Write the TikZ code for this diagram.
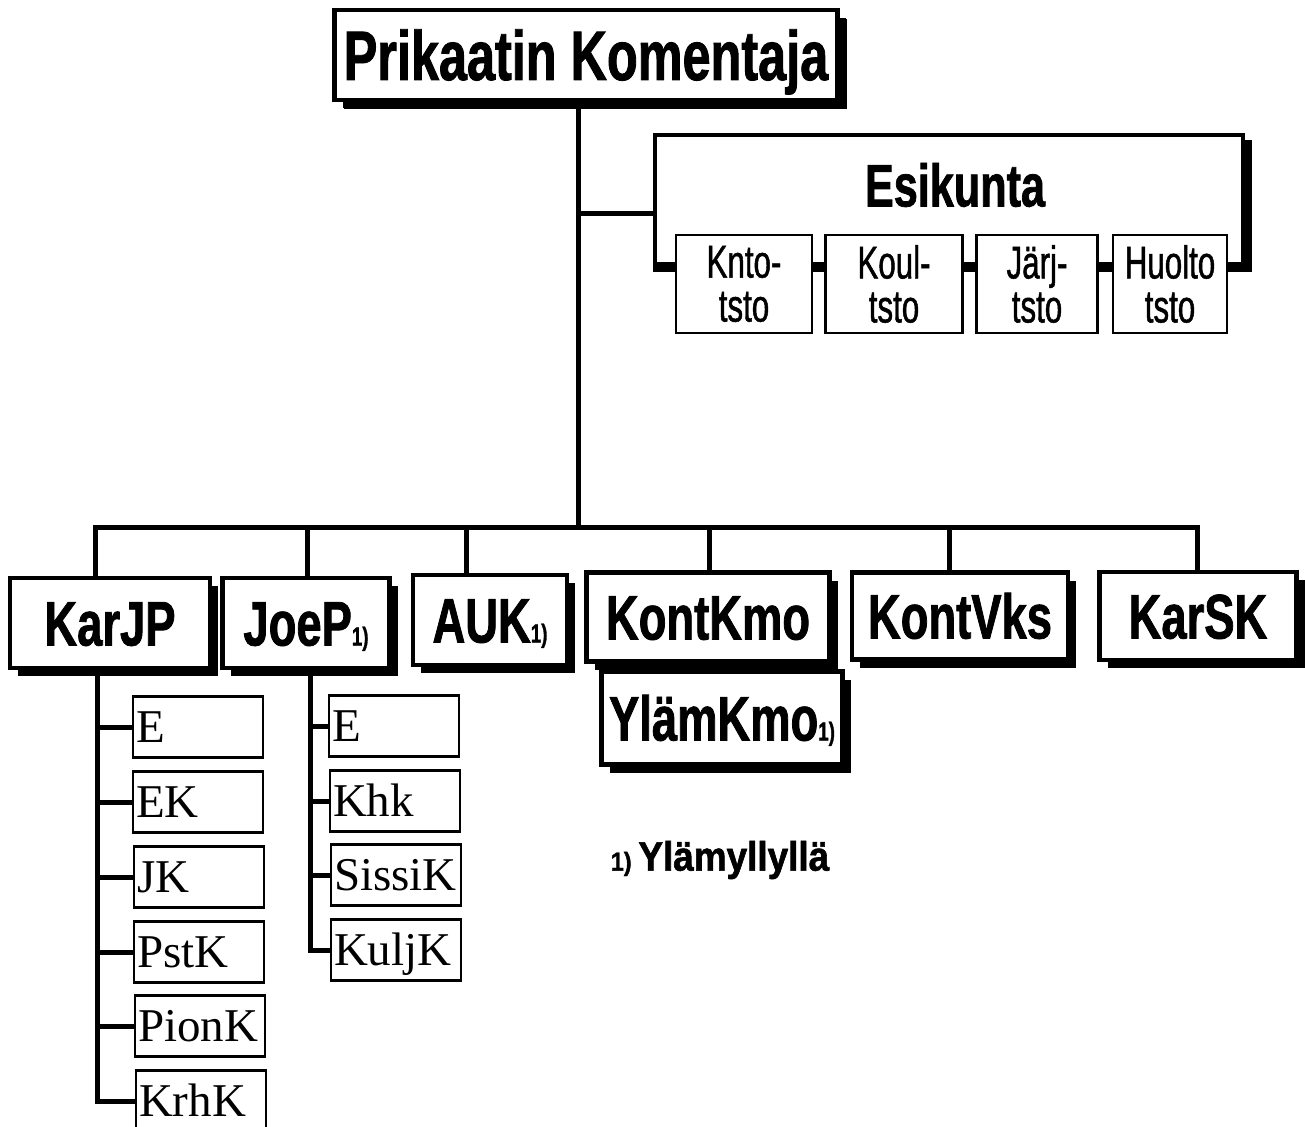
\documentclass[tikz,border=0pt]{standalone}
\usepackage{fontspec}
\newfontfamily\condfont[FakeStretch=0.72,FakeBold=1.2]{Liberation Sans Bold}
\newfontfamily\officefont[FakeStretch=0.68,FakeBold=1]{Liberation Sans}
\newfontfamily\notefont[FakeStretch=0.9,FakeBold=1.5]{Liberation Sans Bold}
\newfontfamily\serfont{Liberation Serif}
\usetikzlibrary{shadows}
\newcommand{\viite}{{\fontsize{26}{26}\selectfont 1)}}

\begin{document}
\begin{tikzpicture}[x=1pt, y=-1pt,
    unit/.style={draw, line width=4.5pt, fill=white, inner sep=0pt,
        font=\condfont\fontsize{63}{63}\selectfont, text height=45pt, text depth=0pt,
        drop shadow={shadow xshift=8pt, shadow yshift=-8pt, fill=black, opacity=1}},
    office/.style={draw, line width=2.5pt, fill=white, inner sep=0pt, align=center,
        minimum height=98pt, font=\officefont\fontsize{46}{44}\selectfont},
    sub/.style={draw, line width=2.5pt, fill=white, inner xsep=3pt, inner ysep=0pt,
        text width=124pt, minimum height=61pt, align=left,
        font=\serfont\fontsize{47}{47}\selectfont, text height=31pt, text depth=0pt},
    link/.style={line width=5pt}]
    \useasboundingbox (0,0) rectangle (1305,1126);
    \clip (0,0) rectangle (1305,1126);

    \node[unit, minimum width=503pt, minimum height=90pt, font=\condfont\fontsize{70}{70}\selectfont, text height=50pt,
        drop shadow={shadow xshift=9pt, shadow yshift=-9pt, fill=black, opacity=1}] (pk) at (586,55) {Prikaatin Komentaja};

    \coordinate (trunk) at (578,527);
    \coordinate (es) at (655,213);
    \coordinate (esl) at (655,267);
    \coordinate (esr) at (1247,267);
    \draw[link] (pk.south -| trunk) -- (trunk);
    \draw[link] (es -| trunk) -- (es);

    % esikunta
    \node[office, minimum width=136pt] (knto) at (744,284) {Knto-\\tsto};
    \node[office, minimum width=137pt] (koul) at (894,284) {Koul-\\tsto};
    \node[office, minimum width=121pt] (jarj) at (1037,284) {Järj-\\tsto};
    \node[office, minimum width=114pt] (huolto) at (1170,284) {Huolto\\tsto};
    \node[font=\condfont\fontsize{60}{60}\selectfont] (esikunta) at (955,185) {Esikunta};
    \draw[line width=4pt] (esl) -- (655,135) -- (1243,135) -- (1243,267);
    \draw[line width=9pt] (1247,140) -- (esr);
    \draw[line width=10pt] (653,267) -- (knto.west |- esl);
    \draw[line width=10pt] (knto.east |- esl) -- (koul.west |- esl);
    \draw[line width=10pt] (koul.east |- esl) -- (jarj.west |- esl);
    \draw[line width=10pt] (jarj.east |- esl) -- (huolto.west |- esl);
    \draw[line width=10pt] (huolto.east |- esl) -- (1251.5,267);

    % joukko-osastot
    \node[unit, minimum width=200pt, minimum height=90pt] (karjp) at (110,623) {KarJP};
    \node[unit, minimum width=167pt, minimum height=90pt] (joep) at (306,623) {JoeP\viite};
    \node[unit, minimum width=154pt, minimum height=90pt] (auk) at (490,620) {AUK\viite};
    \node[unit, minimum width=243pt, minimum height=89pt] (kontkmo) at (708,617) {KontKmo};
    \node[unit, minimum width=216pt, minimum height=87pt] (kontvks) at (960,616) {KontVks};
    \node[unit, minimum width=197pt, minimum height=88pt] (karsk) at (1198,616) {KarSK};
    \node[unit, minimum width=241pt, minimum height=93pt] (ylam) at (722,718) {YlämKmo\viite};

    \coordinate (b1) at (95,527);
    \coordinate (b2) at (307,527);
    \coordinate (b3) at (466,527);
    \coordinate (b4) at (709,527);
    \coordinate (b5) at (949,527);
    \coordinate (b6) at (1197,527);
    \draw[link] (b1 |- karjp.north) -- (b1) -- (b6) -- (b6 |- karsk.north);
    \draw[link] (b2) -- (b2 |- joep.north);
    \draw[link] (b3) -- (b3 |- auk.north);
    \draw[link] (b4) -- (b4 |- kontkmo.north);
    \draw[link] (b5) -- (b5 |- kontvks.north);

    % komppaniat
    \node[sub] (e1) at (198,727) {E};
    \node[sub] (ek) at (198,802) {EK};
    \node[sub] (jk) at (199,877) {JK};
    \node[sub] (pstk) at (199,952) {PstK};
    \node[sub] (pionk) at (200,1026) {PionK};
    \node[sub] (krhk) at (201,1101) {KrhK};
    \coordinate (k1) at (97,0);
    \draw[link] (karjp.south -| k1) |- (krhk.west);
    \draw[link] (k1 |- e1.west) -- (e1.west);
    \draw[link] (k1 |- ek.west) -- (ek.west);
    \draw[link] (k1 |- jk.west) -- (jk.west);
    \draw[link] (k1 |- pstk.west) -- (pstk.west);
    \draw[link] (k1 |- pionk.west) -- (pionk.west);

    \node[sub] (e2) at (394,726) {E};
    \node[sub] (khk) at (395,801) {Khk};
    \node[sub] (sissik) at (396,875) {SissiK};
    \node[sub] (kuljk) at (396,950) {KuljK};
    \coordinate (k2) at (310,0);
    \draw[link] (joep.south -| k2) |- (kuljk.west);
    \draw[link] (k2 |- e2.west) -- (e2.west);
    \draw[link] (k2 |- khk.west) -- (khk.west);
    \draw[link] (k2 |- sissik.west) -- (sissik.west);

    \node[font=\notefont\fontsize{41}{41}\selectfont] (viite) at (720,860) {\viite\,Ylämyllyllä};
\end{tikzpicture}
\end{document}
